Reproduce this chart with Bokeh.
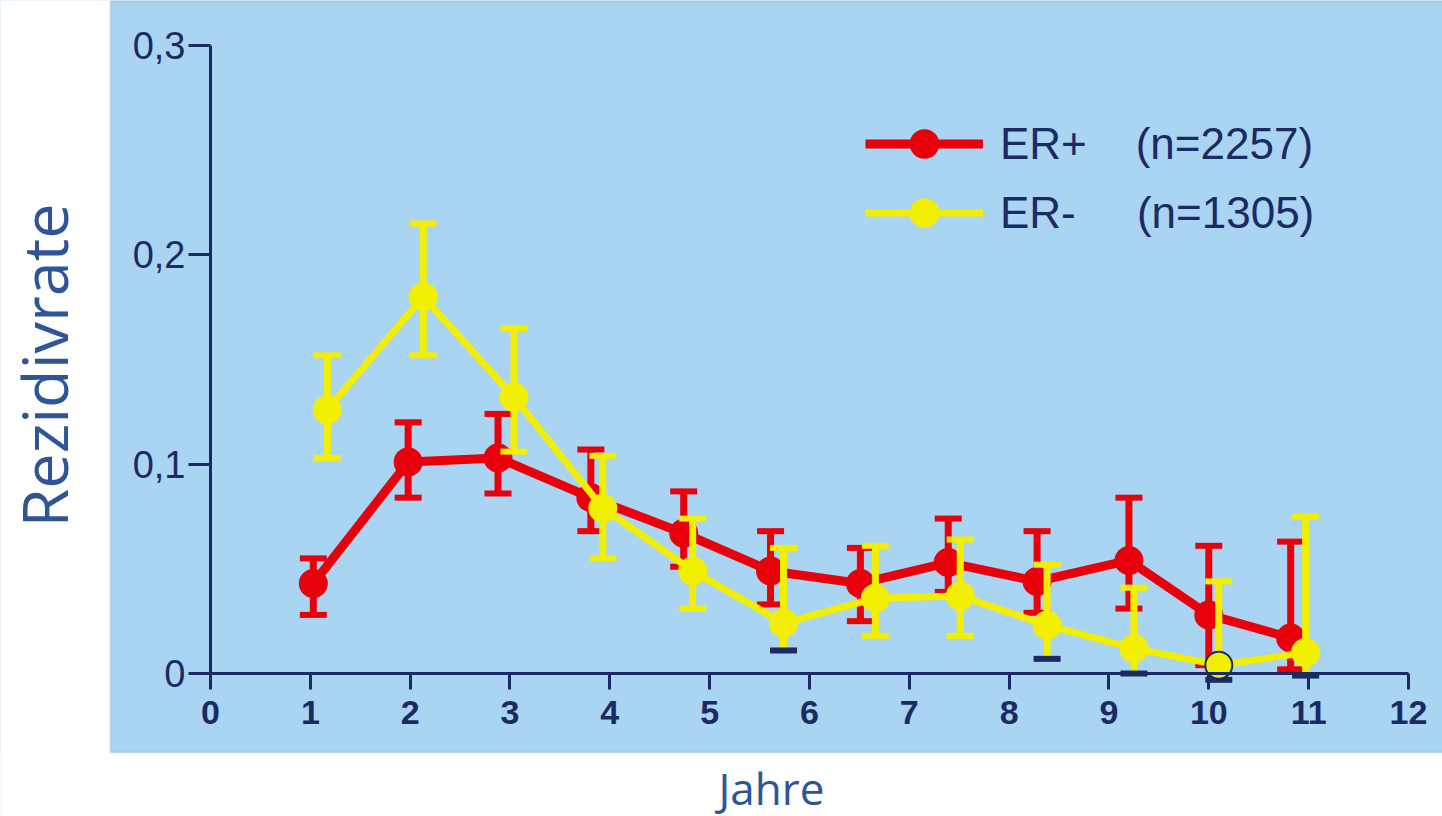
from bokeh.plotting import figure
from bokeh.models import (Range1d, LinearAxis, FixedTicker, CustomJSTickFormatter,
                          ColumnDataSource, Legend, LegendItem, Label, BoxAnnotation)
from bokeh.embed import file_html
from bokeh.resources import INLINE
import math

# ---- data ----
x_ticks = list(range(0, 13))
y_ticks = [0.0, 0.1, 0.2, 0.3]

er_pos_label = "ER+\u00a0\u00a0\u00a0\u00a0(n=2257)"
er_pos_year = [1.03, 1.98, 2.88, 3.81, 4.74, 5.61, 6.51, 7.39, 8.28, 9.20, 10.00, 10.82]
er_pos_rate = [0.043, 0.101, 0.103, 0.084, 0.067, 0.049, 0.043, 0.053, 0.044, 0.054, 0.028, 0.017]
er_pos_lo = [0.028, 0.084, 0.086, 0.068, 0.051, 0.033, 0.025, 0.039, 0.029, 0.031, 0.004, 0.002]
er_pos_hi = [0.055, 0.120, 0.124, 0.107, 0.087, 0.068, 0.060, 0.074, 0.068, 0.084, 0.061, 0.063]

er_neg_label = "ER-\u00a0\u00a0\u00a0\u00a0\u00a0(n=1305)"
er_neg_year = [1.17, 2.13, 3.04, 3.93, 4.83, 5.74, 6.66, 7.51, 8.38, 9.25, 10.10, 10.97]
er_neg_rate = [0.126, 0.180, 0.132, 0.079, 0.049, 0.024, 0.036, 0.037, 0.023, 0.012, 0.004, 0.010]
er_neg_lo = [0.103, 0.152, 0.106, 0.055, 0.031, 0.011, 0.018, 0.018, 0.007, 0.000, -0.003, -0.001]
er_neg_hi = [0.152, 0.215, 0.165, 0.104, 0.074, 0.060, 0.061, 0.064, 0.052, 0.041, 0.044, 0.075]

x_title = "Jahre"
y_title = "Rezidivrate"

# ---- styling ----
BG = "#a9d4f2"
NAVY = "#1c2a63"
RED = "#e8000b"
YELLOW = "#f3ef00"
TITLE_BLUE = "#2e5597"

W, H = 1442, 816
p = figure(width=W, height=H,
           x_range=Range1d(-2.1036, 12.341), y_range=Range1d(-0.06831, 0.32150),
           x_axis_type=None, y_axis_type=None,
           toolbar_location=None, output_backend="svg",
           min_border_left=0, min_border_right=0, min_border_top=0, min_border_bottom=0)
p.background_fill_color = BG
p.border_fill_color = "white"
p.outline_line_color = None

# white surround outside the blue chart panel, and the panel's thin border
p.add_layout(BoxAnnotation(left=-10, right=110, bottom=-10, top=H + 10,
                           left_units="screen", right_units="screen",
                           bottom_units="screen", top_units="screen",
                           fill_color="white", fill_alpha=1, line_color=None, level="underlay"))
p.add_layout(BoxAnnotation(left=-10, right=W + 10, bottom=-10, top=64,
                           left_units="screen", right_units="screen",
                           bottom_units="screen", top_units="screen",
                           fill_color="white", fill_alpha=1, line_color=None, level="underlay"))
p.add_layout(BoxAnnotation(left=110, right=W + 5, bottom=64, top=H - 1,
                           left_units="screen", right_units="screen",
                           bottom_units="screen", top_units="screen",
                           fill_alpha=0, line_color="#7db3e3", line_width=2, level="underlay"))

# axes drawn at the data origin
xaxis = LinearAxis(fixed_location=0, ticker=FixedTicker(ticks=x_ticks), bounds=(0, 12))
yaxis = LinearAxis(fixed_location=0, ticker=FixedTicker(ticks=y_ticks), bounds=(0, 0.3),
                   formatter=CustomJSTickFormatter(
                       code="return tick == 0 ? '0' : tick.toFixed(1).replace('.', ',');"))
for ax in (xaxis, yaxis):
    ax.axis_line_color = NAVY
    ax.axis_line_width = 3
    ax.major_tick_line_color = NAVY
    ax.major_tick_line_width = 3
    ax.major_tick_in = 0
    ax.minor_tick_line_color = None
    ax.major_label_text_color = NAVY
    ax.major_label_text_font = "Liberation Sans"
xaxis.major_label_text_font_size = "34px"
xaxis.major_tick_out = 16
xaxis.major_label_standoff = 11
xaxis.major_label_text_font_style = "bold"
yaxis.major_label_text_font_size = "38px"
yaxis.major_tick_out = 22
yaxis.major_label_standoff = 3
p.add_layout(xaxis, "below")
p.add_layout(yaxis, "left")


def draw_series(years, rate, lo, hi, color, lw, low_cap_colors, marker_outline):
    src = ColumnDataSource(dict(x=years, y=rate, lo=lo, hi=hi,
                                lcc=low_cap_colors, mo=marker_outline))
    p.segment(x0="x", y0="lo", x1="x", y1="hi", source=src, line_color=color, line_width=7)
    p.rect(x="x", y="hi", width=27, height=6, width_units="screen", height_units="screen",
           source=src, fill_color=color, line_color=None)
    p.rect(x="x", y="lo", width=27, height=6, width_units="screen", height_units="screen",
           source=src, fill_color="lcc", line_color=None)
    ln = p.line(x="x", y="y", source=src, line_color=color, line_width=lw, line_join="round")
    mk = p.scatter(x="x", y="y", source=src, size=27, fill_color=color, line_color="mo",
                   line_width=2)
    return ln, mk


pos_low_caps = [RED for v in er_pos_lo]
pos_outline = [RED for v in er_pos_rate]
neg_low_caps = [NAVY if v < 0.015 else YELLOW for v in er_neg_lo]
neg_outline = [NAVY if v < 0.005 else YELLOW for v in er_neg_rate]

r_line, r_mk = draw_series(er_pos_year, er_pos_rate, er_pos_lo, er_pos_hi, RED, 9,
                           pos_low_caps, pos_outline)
y_line, y_mk = draw_series(er_neg_year, er_neg_rate, er_neg_lo, er_neg_hi, YELLOW, 7,
                           neg_low_caps, neg_outline)

legend = Legend(items=[LegendItem(label=er_pos_label, renderers=[r_line, r_mk]),
                       LegendItem(label=er_neg_label, renderers=[y_line, y_mk])],
                location=(865, 569), orientation="vertical",
                glyph_width=118, glyph_height=69, label_height=69, spacing=0,
                label_standoff=17, padding=0, margin=0,
                label_text_font="Liberation Sans", label_text_font_size="44px",
                label_text_color=NAVY,
                border_line_alpha=0, background_fill_alpha=0)
p.add_layout(legend)

p.add_layout(Label(x=43, y=451, x_units="screen", y_units="screen", text=y_title,
                   angle=math.pi / 2, text_align="center", text_baseline="middle",
                   text_font="Open Sans", text_font_size="63px", text_color=TITLE_BLUE))
p.add_layout(Label(x=771, y=29, x_units="screen", y_units="screen", text=x_title,
                   text_align="center", text_baseline="middle",
                   text_font="Open Sans", text_font_size="44px", text_color=TITLE_BLUE))

open("out.html", "w").write(file_html(p, INLINE))
